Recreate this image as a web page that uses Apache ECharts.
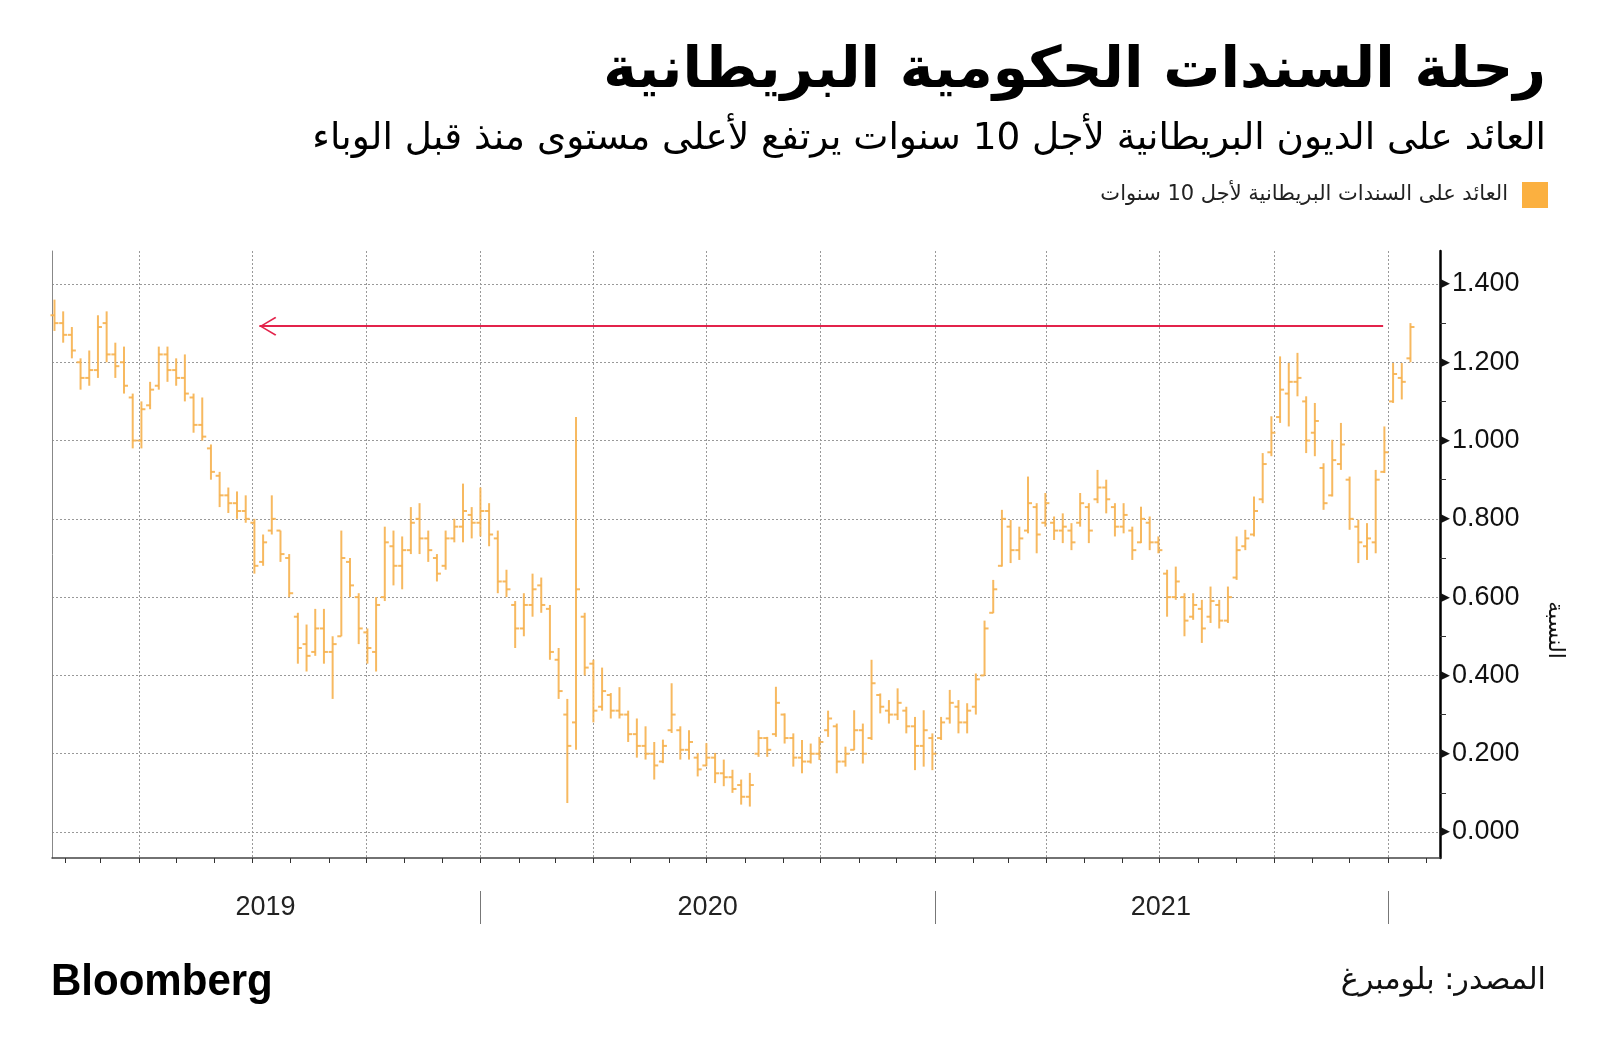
<!DOCTYPE html>
<html><head><meta charset="utf-8">
<script src="https://cdn.jsdelivr.net/npm/echarts@6/dist/echarts.min.js"></script>
<style>html,body{margin:0;padding:0;background:#fff}#c{width:1600px;height:1061px}</style>
</head><body><div id="c"></div>
<script>
// ---------- DATA (weekly OHLC, mid-week dates) ----------
const weekDates = [
'2019-01-23','2019-01-30','2019-02-06','2019-02-13','2019-02-20','2019-02-27','2019-03-06','2019-03-13','2019-03-20','2019-03-27',
'2019-04-03','2019-04-10','2019-04-17','2019-04-24','2019-05-01','2019-05-08','2019-05-15','2019-05-22','2019-05-29','2019-06-05',
'2019-06-12','2019-06-19','2019-06-26','2019-07-03','2019-07-10','2019-07-17','2019-07-24','2019-07-31','2019-08-07','2019-08-14',
'2019-08-21','2019-08-28','2019-09-04','2019-09-11','2019-09-18','2019-09-25','2019-10-02','2019-10-09','2019-10-16','2019-10-23',
'2019-10-30','2019-11-06','2019-11-13','2019-11-20','2019-11-27','2019-12-04','2019-12-11','2019-12-18','2019-12-25','2020-01-01',
'2020-01-08','2020-01-15','2020-01-22','2020-01-29','2020-02-05','2020-02-12','2020-02-19','2020-02-26','2020-03-04','2020-03-11',
'2020-03-18','2020-03-25','2020-04-01','2020-04-08','2020-04-15','2020-04-22','2020-04-29','2020-05-06','2020-05-13','2020-05-20',
'2020-05-27','2020-06-03','2020-06-10','2020-06-17','2020-06-24','2020-07-01','2020-07-08','2020-07-15','2020-07-22','2020-07-29',
'2020-08-05','2020-08-12','2020-08-19','2020-08-26','2020-09-02','2020-09-09','2020-09-16','2020-09-23','2020-09-30','2020-10-07',
'2020-10-14','2020-10-21','2020-10-28','2020-11-04','2020-11-11','2020-11-18','2020-11-25','2020-12-02','2020-12-09','2020-12-16',
'2020-12-23','2020-12-30','2021-01-06','2021-01-13','2021-01-20','2021-01-27','2021-02-03','2021-02-10','2021-02-17','2021-02-24',
'2021-03-03','2021-03-10','2021-03-17','2021-03-24','2021-03-31','2021-04-07','2021-04-14','2021-04-21','2021-04-28','2021-05-05',
'2021-05-12','2021-05-19','2021-05-26','2021-06-02','2021-06-09','2021-06-16','2021-06-23','2021-06-30','2021-07-07','2021-07-14',
'2021-07-21','2021-07-28','2021-08-04','2021-08-11','2021-08-18','2021-08-25','2021-09-01','2021-09-08','2021-09-15','2021-09-22',
'2021-09-29','2021-10-06','2021-10-13','2021-10-20','2021-10-27','2021-11-03','2021-11-10','2021-11-17','2021-11-24','2021-12-01',
'2021-12-08','2021-12-15','2021-12-22','2021-12-29','2022-01-05','2022-01-12','2022-01-19'
];
const opens = [
1.32,1.30,1.27,1.20,1.16,1.18,1.30,1.22,1.20,1.11, 1.00,1.09,1.14,1.22,1.18,1.16,1.11,1.04,0.98,0.91,
0.86,0.84,0.82,0.79,0.69,0.77,0.77,0.70,0.55,0.48, 0.46,0.52,0.46,0.50,0.69,0.60,0.51,0.46,0.60,0.73,
0.68,0.72,0.80,0.75,0.70,0.68,0.75,0.78,0.81,0.79, 0.82,0.75,0.64,0.58,0.52,0.58,0.63,0.57,0.44,0.30,
0.28,0.55,0.43,0.32,0.35,0.31,0.30,0.25,0.22,0.20, 0.18,0.26,0.26,0.21,0.19,0.17,0.19,0.15,0.14,0.12,
0.09,0.20,0.24,0.25,0.30,0.24,0.19,0.18,0.20,0.26, 0.27,0.18,0.21,0.26,0.24,0.35,0.31,0.30,0.31,0.27,
0.22,0.24,0.24,0.29,0.32,0.28,0.32,0.40,0.56,0.68, 0.78,0.72,0.77,0.83,0.79,0.79,0.77,0.77,0.79,0.83,
0.85,0.88,0.83,0.78,0.77,0.74,0.79,0.74,0.66,0.60, 0.60,0.55,0.57,0.55,0.58,0.54,0.65,0.73,0.76,0.85,
0.97,1.06,1.12,1.15,1.10,1.02,0.93,0.86,0.94,0.90, 0.78,0.73,0.74,0.92,1.10,1.16,1.21
];
const closes = [
1.30,1.27,1.23,1.16,1.18,1.29,1.22,1.19,1.14,1.00, 1.08,1.13,1.22,1.18,1.16,1.12,1.04,1.01,0.92,0.86,
0.84,0.82,0.80,0.68,0.74,0.80,0.71,0.61,0.47,0.45, 0.52,0.46,0.48,0.70,0.63,0.52,0.47,0.58,0.74,0.68,
0.72,0.79,0.75,0.72,0.66,0.75,0.78,0.82,0.79,0.82, 0.76,0.64,0.62,0.52,0.58,0.62,0.58,0.46,0.36,0.22,
0.62,0.42,0.31,0.36,0.31,0.30,0.25,0.22,0.20,0.17, 0.22,0.30,0.21,0.23,0.16,0.19,0.15,0.14,0.11,0.09,
0.12,0.24,0.21,0.33,0.24,0.19,0.18,0.20,0.23,0.29, 0.18,0.20,0.26,0.20,0.38,0.32,0.30,0.33,0.27,0.22,
0.26,0.20,0.28,0.33,0.28,0.31,0.39,0.52,0.62,0.80, 0.72,0.75,0.84,0.76,0.84,0.77,0.78,0.74,0.84,0.77,
0.88,0.85,0.78,0.81,0.72,0.80,0.74,0.72,0.60,0.64, 0.54,0.58,0.52,0.59,0.54,0.60,0.72,0.75,0.82,0.94,
1.02,1.13,1.15,1.16,1.00,1.05,0.84,0.95,0.99,0.80, 0.74,0.75,0.90,0.97,1.17,1.15,1.29
];
const lows = [
1.28,1.25,1.21,1.13,1.14,1.16,1.20,1.16,1.12,0.98, 0.98,1.08,1.13,1.15,1.14,1.10,1.02,1.00,0.90,0.83,
0.815,0.80,0.79,0.66,0.68,0.76,0.69,0.60,0.43,0.41, 0.45,0.43,0.34,0.50,0.60,0.48,0.43,0.41,0.59,0.63,
0.62,0.71,0.71,0.69,0.64,0.67,0.74,0.74,0.75,0.755, 0.73,0.61,0.60,0.47,0.50,0.55,0.56,0.44,0.34,0.074,
0.21,0.40,0.28,0.31,0.29,0.29,0.23,0.19,0.185,0.134, 0.176,0.253,0.185,0.185,0.142,0.168,0.125,0.117,0.10,0.07,
0.065,0.192,0.192,0.243,0.226,0.167,0.15,0.175,0.184,0.243, 0.15,0.167,0.209,0.175,0.235,0.303,0.277,0.286,0.252,0.158,
0.167,0.158,0.235,0.277,0.252,0.252,0.30,0.40,0.559,0.678, 0.687,0.695,0.763,0.712,0.78,0.746,0.738,0.72,0.78,0.738,
0.84,0.814,0.755,0.763,0.695,0.738,0.72,0.712,0.55,0.593, 0.50,0.542,0.483,0.534,0.52,0.534,0.644,0.72,0.755,0.84,
0.96,1.045,1.036,1.113,0.968,0.96,0.823,0.857,0.925,0.772, 0.687,0.695,0.712,0.917,1.096,1.105,1.20
];
const highs = [
1.36,1.33,1.29,1.21,1.23,1.32,1.33,1.25,1.24,1.12, 1.10,1.15,1.24,1.24,1.21,1.22,1.12,1.11,0.99,0.92,
0.88,0.87,0.86,0.80,0.76,0.86,0.77,0.71,0.56,0.53, 0.57,0.57,0.50,0.77,0.70,0.61,0.52,0.60,0.78,0.77,
0.755,0.83,0.84,0.77,0.71,0.77,0.80,0.89,0.83,0.88, 0.84,0.77,0.67,0.59,0.61,0.66,0.65,0.58,0.47,0.34,
1.06,0.56,0.44,0.42,0.355,0.37,0.31,0.29,0.27,0.23, 0.236,0.38,0.27,0.26,0.202,0.227,0.202,0.185,0.159,0.134,
0.151,0.26,0.243,0.371,0.303,0.252,0.235,0.226,0.243,0.31, 0.277,0.218,0.311,0.277,0.44,0.354,0.337,0.367,0.32,0.294,
0.311,0.252,0.294,0.363,0.337,0.329,0.405,0.54,0.644,0.823, 0.797,0.78,0.908,0.84,0.866,0.806,0.814,0.789,0.866,0.84,
0.925,0.90,0.84,0.84,0.78,0.831,0.806,0.755,0.67,0.678, 0.61,0.61,0.593,0.627,0.593,0.627,0.755,0.772,0.857,0.968,
1.062,1.215,1.198,1.224,1.113,1.096,0.942,1.002,1.045,0.908, 0.798,0.789,0.925,1.036,1.198,1.198,1.30
];
const yTicks = [0, 0.2, 0.4, 0.6, 0.8, 1.0, 1.2, 1.4];
const yMinorTicks = [0.1, 0.3, 0.5, 0.7, 0.9, 1.1, 1.3];
const monthTicks = [
'2019-02-01','2019-03-01','2019-04-01','2019-05-01','2019-06-01','2019-07-01','2019-08-01','2019-09-01','2019-10-01','2019-11-01','2019-12-01',
'2020-01-01','2020-02-01','2020-03-01','2020-04-01','2020-05-01','2020-06-01','2020-07-01','2020-08-01','2020-09-01','2020-10-01','2020-11-01','2020-12-01',
'2021-01-01','2021-02-01','2021-03-01','2021-04-01','2021-05-01','2021-06-01','2021-07-01','2021-08-01','2021-09-01','2021-10-01','2021-11-01','2021-12-01',
'2022-01-01','2022-02-01'
];
const quarterLines = ['2019-04-01','2019-07-01','2019-10-01','2020-01-01','2020-04-01','2020-07-01','2020-10-01','2021-01-01','2021-04-01','2021-07-01','2021-10-01','2022-01-01'];
const yearBreaks = ['2020-01-01','2021-01-01','2022-01-01'];
const yearLabelDates = ['2019-07-12','2020-07-02','2021-07-02'];
const arrowLevel = 1.292;
const arrowFrom = '2019-07-07';
const arrowTo = '2021-12-28';

const titleText = 'رحلة السندات الحكومية البريطانية';
const subtitleText = 'العائد على الديون البريطانية لأجل 10 سنوات يرتفع لأعلى مستوى منذ قبل الوباء';
const seriesName = 'العائد على السندات البريطانية لأجل 10 سنوات';
const axisName = 'النسبة';
const sourceText = 'المصدر: بلومبرغ';

// ---------- helpers ----------
function ts(s) { const p = s.split('-').map(Number); return new Date(p[0], p[1] - 1, p[2]).getTime(); }
const mctx = document.createElement('canvas').getContext('2d');
function fit(text, weight, family, target, maxSize) {
  mctx.font = weight + ' 100px ' + family;
  const w = mctx.measureText(text).width;
  return Math.min(maxSize, Math.floor(1000 * target / w) / 10);
}
const AR = '"DejaVu Sans"';
const NUM = '"Liberation Sans"';
const xMin = ts('2019-01-21');
const xMax = ts('2022-02-11') + 19 * 3600e3;
const yMin = -0.0664, yMax = 1.4842;
const barColor = '#f6b14f';

const titleSize = fit(titleText, 'bold', AR, 944, 62);
const subSize = fit(subtitleText, 'normal', AR, 1235, 40);
const legSize = fit(seriesName, 'normal', AR, 408, 21);
const srcSize = fit(sourceText, 'normal', AR, 206, 31);
const axNameSize = fit(axisName, 'normal', AR, 63, 22);

const ohlc = weekDates.map((d, i) => [ts(d), opens[i], closes[i], lows[i], highs[i]]);

const chevron = 'path://M9.5,17 L19,32.8 L17.7,34 L9.5,19.8 L1.3,34 L0,32.8 Z M9.5,0 L9.5,0.01';

const common = { type: 'value', min: xMin, max: xMax, gridIndex: 0, position: 'bottom', scale: true };

const chart = echarts.init(document.getElementById('c'), null, { renderer: 'canvas' });
chart.setOption({
  animation: false,
  backgroundColor: '#fff',
  title: [
    { text: titleText, right: 54, top: 72 - titleSize / 2, padding: 0,
      textStyle: { fontFamily: AR, fontWeight: 'bold', fontSize: titleSize, lineHeight: titleSize, color: '#000' } },
    { text: subtitleText, right: 54, top: 139 - subSize / 2, padding: 0,
      textStyle: { fontFamily: AR, fontWeight: 'normal', fontSize: subSize, lineHeight: subSize, color: '#000' } }
  ],
  legend: {
    right: 52, top: 182, align: 'right', itemWidth: 26, itemHeight: 26, padding: 0,
    icon: 'rect', selectedMode: false,
    textStyle: { fontFamily: AR, fontSize: legSize, color: '#222', padding: [0, 9, 0, 0] },
    data: [{ name: seriesName, icon: 'rect', itemStyle: { color: '#fbb040' } }]
  },
  grid: { left: 52, right: 160, top: 251, bottom: 203, containLabel: false, outerBoundsMode: 'none' },
  xAxis: [
    Object.assign({}, common, {
      axisLine: { show: true, onZero: false, lineStyle: { color: '#444', width: 1.5 } },
      axisTick: { show: true, customValues: monthTicks.map(ts), length: 5, lineStyle: { color: '#333', width: 1 } },
      axisLabel: { show: false }, splitLine: { show: false }
    }),
    Object.assign({}, common, {
      axisLine: { show: false, onZero: false },
      axisTick: { show: false, customValues: quarterLines.map(ts) },
      axisLabel: { show: false },
      splitLine: { show: true, lineStyle: { color: '#999', type: [2, 2], width: 1 } }
    }),
    Object.assign({}, common, {
      offset: 33,
      axisLine: { show: false, onZero: false },
      axisTick: { show: true, customValues: yearBreaks.map(ts), length: 33, lineStyle: { color: '#777', width: 1 } },
      axisLabel: { show: true, customValues: yearLabelDates.map(ts), margin: 3,
        formatter: v => String(new Date(v).getFullYear()),
        fontFamily: NUM, fontSize: 27, lineHeight: 28, color: '#222' },
      splitLine: { show: false }
    })
  ],
  yAxis: [
    { type: 'value', min: yMin, max: yMax, position: 'right', gridIndex: 0,
      axisLine: { show: true, onZero: false, lineStyle: { color: '#000', width: 2.5 } },
      axisTick: { show: false, customValues: yTicks },
      axisLabel: { show: true, customValues: yTicks, margin: 0,
        formatter: v => '{t|▶}' + v.toFixed(3),
        fontFamily: NUM, fontSize: 27, color: '#111',
        rich: { t: { fontFamily: AR, fontSize: 13, color: '#111', padding: [0, 2, 0, 0] } } },
      splitLine: { show: true, lineStyle: { color: '#999', type: [2, 2], width: 1 } } },
    { type: 'value', min: yMin, max: yMax, position: 'right', gridIndex: 0,
      axisLine: { show: false, onZero: false },
      axisTick: { show: true, customValues: yMinorTicks, length: 6, lineStyle: { color: '#333', width: 1 } },
      axisLabel: { show: false }, splitLine: { show: false } },
    { type: 'value', min: yMin, max: yMax, position: 'left', gridIndex: 0,
      axisLine: { show: true, onZero: false, lineStyle: { color: '#888', width: 1 } },
      axisTick: { show: false }, axisLabel: { show: false }, splitLine: { show: false } }
  ],
  series: [{
    type: 'custom', name: seriesName, xAxisIndex: 0, yAxisIndex: 0,
    data: ohlc,
    encode: { x: 0, y: [1, 2, 3, 4] },
    itemStyle: { color: barColor },
    silent: true,
    renderItem: function (params, api) {
      const t = api.value(0);
      const x = api.coord([t, 0])[0];
      const yo = api.coord([t, api.value(1)])[1];
      const yc = api.coord([t, api.value(2)])[1];
      const yl = api.coord([t, api.value(3)])[1];
      const yh = api.coord([t, api.value(4)])[1];
      const st = { stroke: barColor, lineWidth: 2, opacity: 0.9 };
      return { type: 'group', children: [
        { type: 'line', shape: { x1: x, y1: yh, x2: x, y2: yl }, style: st },
        { type: 'line', shape: { x1: x - 4, y1: yo, x2: x, y2: yo }, style: st },
        { type: 'line', shape: { x1: x, y1: yc, x2: x + 4, y2: yc }, style: st }
      ] };
    },
    markLine: {
      silent: true, animation: false,
      label: { show: false },
      lineStyle: { color: '#e3234b', width: 2, type: 'solid' },
      emphasis: { disabled: true },
      data: [[
        { coord: [ts(arrowFrom), arrowLevel], symbol: chevron, symbolSize: [19, 34] },
        { coord: [ts(arrowTo), arrowLevel], symbol: 'none' }
      ]]
    }
  }],
  graphic: [
    { type: 'text', x: 1555, y: 630, rotation: -Math.PI / 2, silent: true,
      style: { text: axisName, fontFamily: AR, fontSize: axNameSize, fill: '#111', textAlign: 'center', textVerticalAlign: 'middle' } },
    { type: 'text', x: 51, y: 983, scaleX: 0.955, silent: true,
      style: { text: 'Bloomberg', fontFamily: NUM, fontWeight: 'bold', fontSize: 44, fill: '#000', textAlign: 'left', textVerticalAlign: 'middle' } },
    { type: 'text', x: 1546, y: 981, silent: true,
      style: { text: sourceText, fontFamily: AR, fontSize: srcSize, fill: '#111', textAlign: 'right', textVerticalAlign: 'middle' } }
  ]
});
</script>
</body></html>
